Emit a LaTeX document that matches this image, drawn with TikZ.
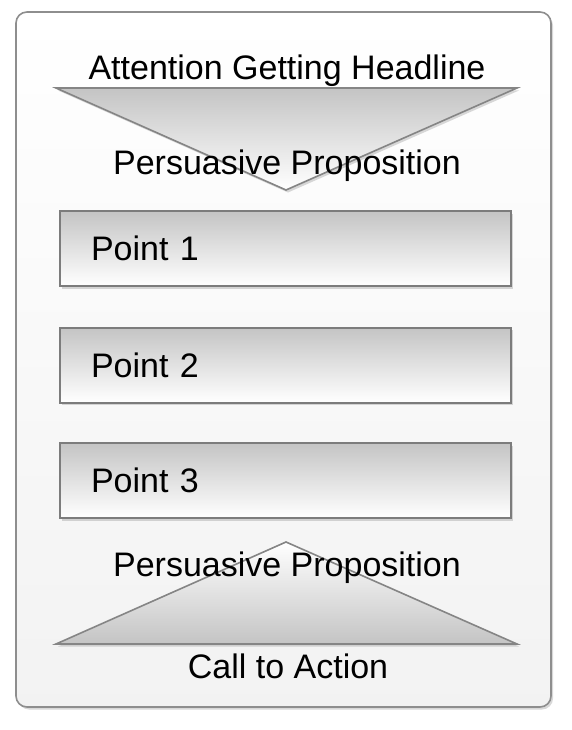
\documentclass[tikz,border=0pt]{standalone}
\usepackage{fontspec}
\setmainfont{Liberation Sans}
\usetikzlibrary{shadows}
\definecolor{framegray}{HTML}{8E8E8E}
\definecolor{boxgray}{HTML}{7C7C7C}
\definecolor{trigray}{HTML}{858585}
\definecolor{shadegray}{HTML}{C4C4C4}
\begin{document}
\begin{tikzpicture}[x=1pt,y=-1pt,
  lbl/.style={font=\fontsize{34}{40}\selectfont, text=black, inner sep=0pt},
  softshadow/.style={drop shadow={shadow xshift=2pt, shadow yshift=-2.5pt, opacity=0.25, fill=black!60}},
  framebox/.style={draw=framegray, line width=1.6pt, rounded corners=11pt, top color=white, bottom color=black!5, softshadow},
  pointbox/.style={draw=boxgray, line width=2pt, top color=shadegray, bottom color=white, minimum height=75pt, text width=389pt, inner xsep=31pt, inner ysep=0pt, align=left, font=\fontsize{34}{40}\selectfont, softshadow},
  tri/.style={draw=trigray, line width=1.6pt, line join=miter, softshadow}
]
\useasboundingbox (0,0) rectangle (572,730);
\fill[white] (0,0) rectangle (572,730);
% outer frame
\coordinate (fa) at (16,12);
\coordinate (fb) at (551,707);
\path[framebox] (fa) rectangle (fb);
% top triangle
\coordinate (ta) at (56,88);
\coordinate (tb) at (517,88);
\coordinate (tc) at (286,190);
\path[tri, top color=shadegray, bottom color=white] (ta) -- (tb) -- (tc) -- cycle;
% bottom triangle
\coordinate (ba) at (286,542);
\coordinate (bb) at (517,644);
\coordinate (bc) at (56,644);
\path[tri, top color=white, bottom color=shadegray] (ba) -- (bb) -- (bc) -- cycle;
% point boxes
\node[pointbox] (p1) at (285.5,248.5) {Point 1};
\node[pointbox] (p2) at (285.5,365) {Point 2};
\node[pointbox] (p3) at (285.5,480.5) {Point 3};
% labels
\node[lbl, anchor=base] (head) at (287,80) {Attention Getting Headline};
\node[lbl, anchor=base] (prop1) at (287,175) {Persuasive Proposition};
\node[lbl, anchor=base] (prop2) at (287,576) {Persuasive Proposition};
\node[lbl, anchor=base] (call) at (288,678) {Call to Action};
\end{tikzpicture}
\end{document}
